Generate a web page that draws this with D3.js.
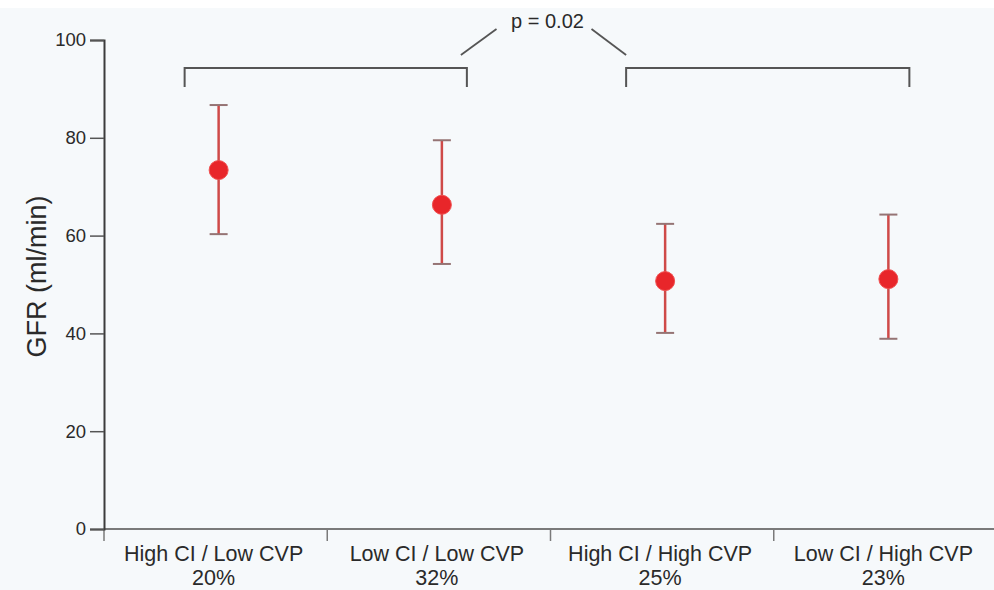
<!DOCTYPE html>
<html>
<head>
<meta charset="utf-8">
<script src="https://cdn.jsdelivr.net/npm/d3@7/dist/d3.min.js"></script>
<style>
  html, body { margin: 0; padding: 0; background: #f6f9fb; }
  svg { display: block; }
  text { font-family: "Liberation Sans", Arial, Helvetica, sans-serif; }
</style>
</head>
<body>
<svg id="chart" width="994" height="590"></svg>
<script>
// Haemodynamic groups, share of patients in each, and GFR mean with spread
const groups   = ["High CI / Low CVP", "Low CI / Low CVP", "High CI / High CVP", "Low CI / High CVP"];
const shares   = ["20%", "32%", "25%", "23%"];
const gfrMean  = [73.4, 66.3, 50.7, 51.1];
const gfrUpper = [86.7, 79.5, 62.4, 64.3];
const gfrLower = [60.3, 54.2, 40.1, 38.9];
const yTicks   = [0, 20, 40, 60, 80, 100];
const pLabel   = "p = 0.02";

const svg = d3.select("#chart");
const W = 994, H = 590;

svg.append("rect").attr("width", W).attr("height", H).attr("fill", "#f6f9fb");
svg.append("rect").attr("width", W).attr("height", 8).attr("fill", "#ffffff");

const x = d3.scaleBand().domain(groups).range([104, 997]).padding(0);
const y = d3.scaleLinear().domain([0, 100]).range([529, 40]);
const cx = g => x(g) + x.bandwidth() / 2;

// x axis: baseline with ticks at the group boundaries
const bounds = groups.map(g => x(g)).concat([x.range()[1]]);
svg.append("line")
  .attr("x1", x.range()[0]).attr("x2", W)
  .attr("y1", y(0)).attr("y2", y(0))
  .attr("stroke", "#7a7a7a").attr("stroke-width", 2);
svg.selectAll("line.xb").data(bounds).join("line")
  .attr("class", "xb")
  .attr("x1", d => d).attr("x2", d => d)
  .attr("y1", y(0)).attr("y2", y(0) + 12)
  .attr("stroke", "#7a7a7a").attr("stroke-width", 1.5);

// category labels (group name above, share below)
svg.selectAll("text.xl").data(groups).join("text")
  .attr("class", "xl")
  .attr("x", d => cx(d) - 2).attr("y", y(0) + 32)
  .attr("text-anchor", "middle")
  .attr("fill", "#2a2a2a")
  .style("font-size", "21.5px")
  .text(d => d);
svg.selectAll("text.xs").data(shares).join("text")
  .attr("class", "xs")
  .attr("x", (d, i) => cx(groups[i]) - 2).attr("y", y(0) + 56)
  .attr("text-anchor", "middle")
  .attr("fill", "#2a2a2a")
  .style("font-size", "21.5px")
  .text(d => d);

// y axis
const yAxis = d3.axisLeft(y).tickValues(yTicks).tickSize(14).tickPadding(4);
const ya = svg.append("g").attr("transform", `translate(${x.range()[0]},0)`).call(yAxis);
ya.select(".domain").attr("stroke", "#3c3c3c").attr("stroke-width", 2);
ya.selectAll(".tick line").attr("stroke", "#555").attr("stroke-width", 1.5);
ya.selectAll(".tick text").attr("fill", "#2a2a2a")
  .style("font-size", "18.5px")
  .style("font-family", "'Liberation Sans', Arial, sans-serif");

svg.append("text")
  .attr("transform", `translate(46,${(y(0) + y(100)) / 2 - 8}) rotate(-90)`)
  .attr("text-anchor", "middle")
  .attr("fill", "#2a2a2a")
  .style("font-size", "27px")
  .text("GFR (ml/min)");

// comparison brackets and p-value
const bracketY = y(100) + 28;
const bracketDrop = 19;
const brackets = [
  [cx(groups[0]) - 31, cx(groups[1]) + 28],
  [cx(groups[2]) - 36, cx(groups[3]) + 24]
];
brackets.forEach(([a, b]) => {
  svg.append("path")
    .attr("d", `M${a},${bracketY + bracketDrop}V${bracketY}H${b}V${bracketY + bracketDrop}`)
    .attr("fill", "none").attr("stroke", "#555").attr("stroke-width", 2);
});
const mid = (brackets[0][1] + brackets[1][0]) / 2;
svg.append("line")
  .attr("x1", brackets[0][1] - 6).attr("y1", y(100) + 15)
  .attr("x2", mid - 50).attr("y2", y(100) - 11)
  .attr("stroke", "#555").attr("stroke-width", 1.8);
svg.append("line")
  .attr("x1", mid + 45).attr("y1", y(100) - 11)
  .attr("x2", brackets[1][0]).attr("y2", y(100) + 15)
  .attr("stroke", "#555").attr("stroke-width", 1.8);
svg.append("text")
  .attr("x", mid + 1).attr("y", y(100) - 12)
  .attr("text-anchor", "middle")
  .attr("fill", "#2a2a2a")
  .style("font-size", "20px")
  .text(pLabel);

// error bars and means
const capHalf = 9;
const marks = svg.append("g");
groups.forEach((g, i) => {
  const px = cx(g) + 3;
  marks.append("line")
    .attr("x1", px).attr("x2", px)
    .attr("y1", y(gfrUpper[i])).attr("y2", y(gfrLower[i]))
    .attr("stroke", "#cf4a48").attr("stroke-width", 2.5);
  [gfrUpper[i], gfrLower[i]].forEach(v => {
    marks.append("line")
      .attr("x1", px - capHalf).attr("x2", px + capHalf)
      .attr("y1", y(v)).attr("y2", y(v))
      .attr("stroke", "#957474").attr("stroke-width", 2);
  });
  marks.append("circle")
    .attr("cx", px).attr("cy", y(gfrMean[i])).attr("r", 9.5)
    .attr("fill", "#e8262a").attr("stroke", "#f05050").attr("stroke-width", 1);
});
</script>
</body>
</html>
